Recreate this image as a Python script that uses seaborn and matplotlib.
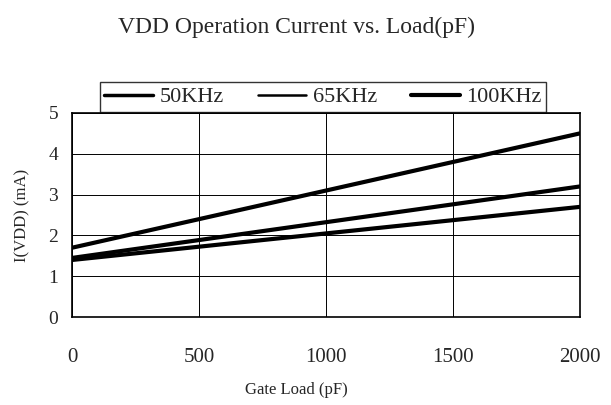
import matplotlib
matplotlib.use("Agg")
import matplotlib.pyplot as plt
import pandas as pd
import seaborn as sns

# data
loads = [0, 2000]
i_50k = [1.40, 2.70]
i_65k = [1.45, 3.20]
i_100k = [1.70, 4.50]
series = ["50KHz", "65KHz", "100KHz"]

df = pd.DataFrame({
    "load": loads * 3,
    "current": i_50k + i_65k + i_100k,
    "freq": [series[0]] * 2 + [series[1]] * 2 + [series[2]] * 2,
})

sns.set_style("white")
plt.rcParams["font.family"] = ["Liberation Serif", "DejaVu Serif"]

fig = plt.figure(figsize=(6.11, 4.05), dpi=100)
ax = fig.add_axes([0.118, 0.217, 0.831, 0.504])

sns.lineplot(data=df, x="load", y="current", hue="freq", hue_order=series,
             palette=["black"] * 3, linewidth=3, legend=False, ax=ax)

ax.set_xlim(0, 2000)
ax.set_ylim(0, 5)
ax.set_xticks([0, 500, 1000, 1500, 2000])
ax.set_yticks([0, 1, 2, 3, 4, 5])
ax.grid(True, color="black", linewidth=0.7)
for s in ax.spines.values():
    s.set_color("black")
    s.set_linewidth(1.2)
ax.tick_params(axis="x", length=0, pad=22, labelsize=15)
ax.tick_params(axis="y", length=0, pad=10, labelsize=14)
ax.set_xlabel("")
ax.set_ylabel("")

fig.text(296 / 611, 1 - 27 / 405, "VDD Operation Current vs. Load(pF)",
         ha="center", va="center", fontsize=17)
fig.text(296 / 611, 1 - 390 / 405, "Gate Load (pF)", ha="center", va="center", fontsize=12)
fig.text(22 / 611, 1 - 215 / 405, "I(VDD) (mA)", ha="center", va="center",
         rotation=90, fontsize=12)

handles = [plt.Line2D([], [], color="black", lw=w) for w in (2.5, 1.8, 3)]
fig.legend(handles, series, loc="center", bbox_to_anchor=(323 / 611, 1 - 97 / 405),
           ncol=3, fontsize=16, frameon=True, fancybox=False, edgecolor="black",
           handlelength=2.2, handletextpad=0.3, columnspacing=1.5, borderpad=0.2)

fig.savefig("out.png", dpi=100)
